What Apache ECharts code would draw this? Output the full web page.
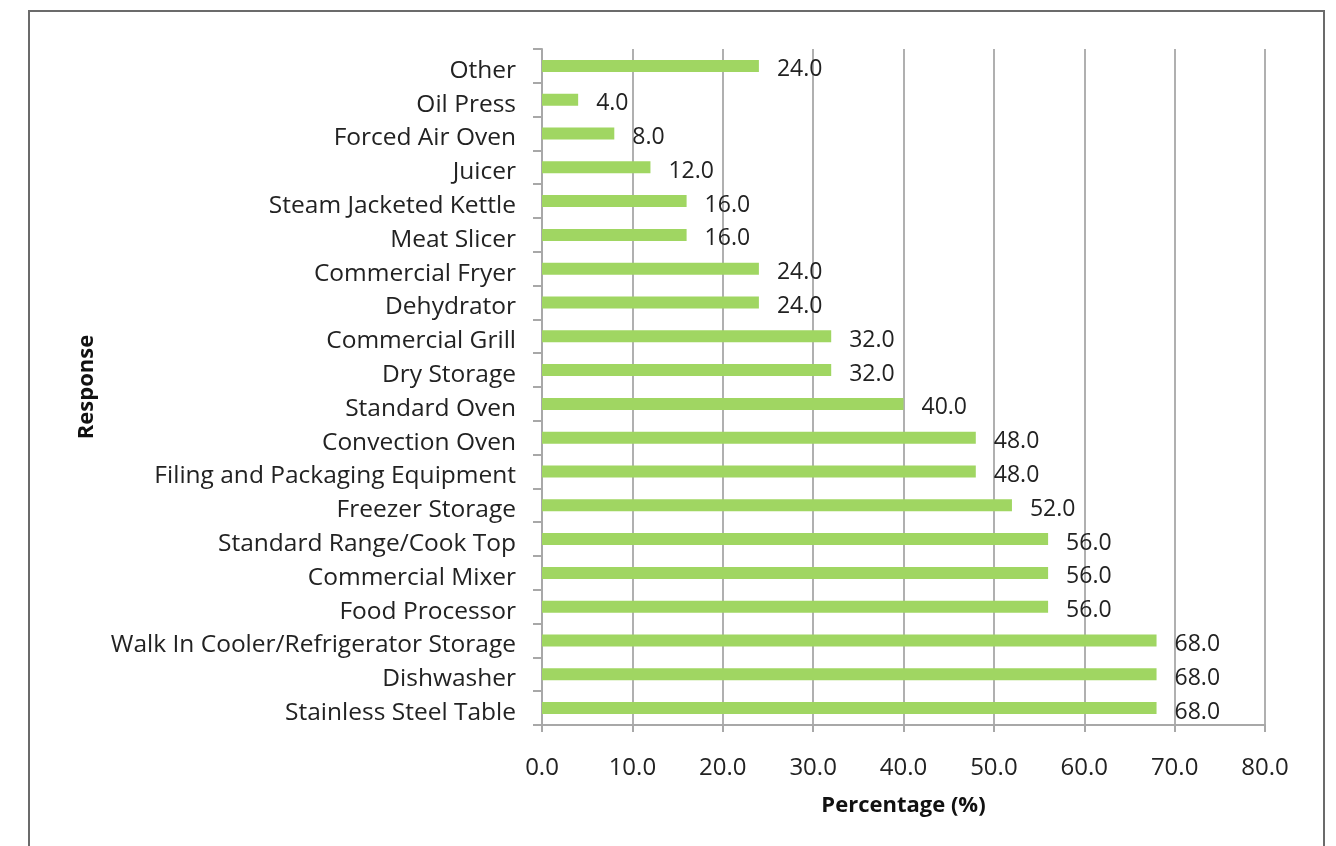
<!DOCTYPE html>
<html><head><meta charset="utf-8">
<script src="https://cdn.jsdelivr.net/npm/echarts@6/dist/echarts.min.js"></script>
<style>html,body{margin:0;padding:0;background:#fff;}#c{width:1336px;height:846px;}</style>
</head><body><div id="c"></div>
<script>
const categories = ["Other","Oil Press","Forced Air Oven","Juicer","Steam Jacketed Kettle","Meat Slicer","Commercial Fryer","Dehydrator","Commercial Grill","Dry Storage","Standard Oven","Convection Oven","Filing and Packaging Equipment","Freezer Storage","Standard Range/Cook Top","Commercial Mixer","Food Processor","Walk In Cooler/Refrigerator Storage","Dishwasher","Stainless Steel Table"];
const values = [24,4,8,12,16,16,24,24,32,32,40,48,48,52,56,56,56,68,68,68];
const xTicks = [0,10,20,30,40,50,60,70,80];

const FONT = '"Open Sans", sans-serif';
const chart = echarts.init(document.getElementById('c'), null, {renderer:'canvas'});
chart.setOption({
  backgroundColor:'#fff',
  animation:false,
  graphic:[{type:'rect',shape:{x:29,y:11,width:1295,height:860},style:{fill:'none',stroke:'#6b6b6b',lineWidth:2},z:-1}],
  grid:{left:542,right:71,top:49,bottom:121},
  xAxis:{type:'value',min:xTicks[0],max:xTicks[xTicks.length-1],interval:10,
    name:'Percentage (%)',nameLocation:'middle',nameGap:70,
    nameTextStyle:{fontFamily:FONT,fontSize:22,fontWeight:'bold',color:'#111'},
    axisLine:{show:true,lineStyle:{color:'#a8a8a8',width:2}},
    axisTick:{show:true,length:7,lineStyle:{color:'#a8a8a8',width:2}},
    axisLabel:{margin:31,fontFamily:FONT,fontSize:24,color:'#222',formatter:v=>v.toFixed(1)},
    splitLine:{show:true,lineStyle:{color:'#b0b0b0',width:2}}},
  yAxis:{type:'category',data:categories,inverse:true,
    name:'Response',nameLocation:'middle',nameGap:444,nameRotate:90,
    nameTextStyle:{fontFamily:FONT,fontSize:22,fontWeight:'bold',color:'#111'},
    axisLine:{show:true,lineStyle:{color:'#a8a8a8',width:2}},
    axisTick:{show:true,length:9,lineStyle:{color:'#a8a8a8',width:2}},
    axisLabel:{margin:26,fontFamily:FONT,fontSize:24.5,color:'#222',verticalAlign:'top',lineHeight:10},
    splitLine:{show:false}},
  series:[{type:'bar',data:values,barWidth:12,
    itemStyle:{color:'#a0d662'},
    label:{show:true,position:'right',distance:18,offset:[0,4],fontFamily:FONT,fontSize:23,color:'#222',formatter:p=>p.value.toFixed(1)}}]
});
</script></body></html>
